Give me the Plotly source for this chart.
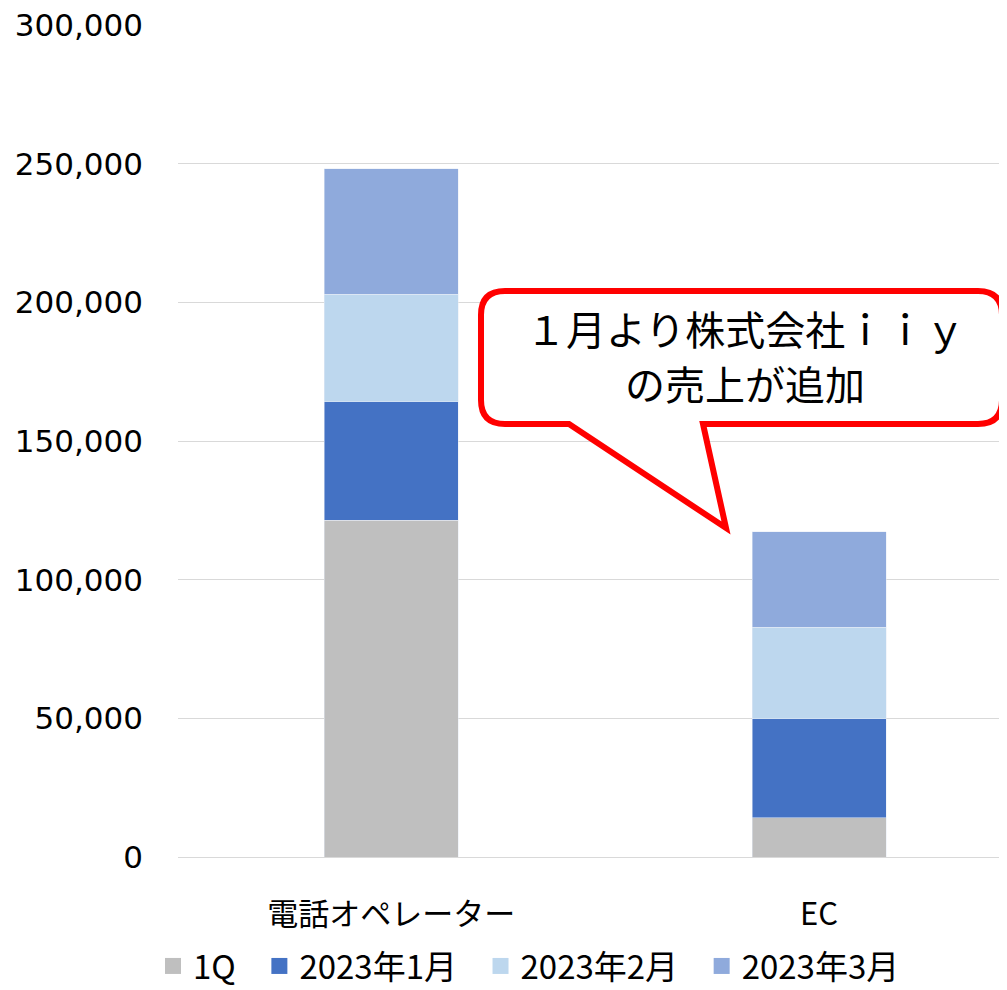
import plotly.graph_objects as go

categories = ["電話オペレーター", "EC"]
series_names = ["1Q", "2023年1月", "2023年2月", "2023年3月"]
values_1q = [121400, 14200]
values_jan = [42800, 35600]
values_feb = [38700, 33100]
values_mar = [45300, 34400]
colors = ["#bfbfbf", "#4472c4", "#bdd7ee", "#8faadc"]
y_ticks = [0, 50000, 100000, 150000, 200000, 250000, 300000]

series_values = [values_1q, values_jan, values_feb, values_mar]

# the page body has an 8px margin; lay the figure out in window pixels
OFF = 8
WIN_W, WIN_H = 1007, 990
W, H = WIN_W - OFF, WIN_H - OFF
PLOT_L, PLOT_R, PLOT_T, PLOT_B = 178, 1007, 25, 857   # window pixels
ML, MR, MT, MB = PLOT_L - OFF, WIN_W - PLOT_R, PLOT_T - OFF, WIN_H - PLOT_B
PW = PLOT_R - PLOT_L
PH = PLOT_B - PLOT_T


def px(x):
    return (x - PLOT_L) / PW


def py(y):
    return (PLOT_B - y) / PH


fig = go.Figure()
for name, vals, col in zip(series_names, series_values, colors):
    fig.add_trace(go.Bar(x=categories, y=vals, name=name, marker_color=col,
                         width=0.313, showlegend=False))
    fig.add_trace(go.Scatter(x=[None], y=[None], mode="markers", name=name + "\u2002\u200a",
                             marker=dict(symbol="square", size=21, color=col),
                             showlegend=True))

# callout balloon
L, R, T, B, r = 481, 1002, 291, 424, 24
tail_l, tail_r, tip = (569, B), (703, B), (726, 528)
pts = [
    ("M", (L + r, T)), ("L", (R - r, T)), ("Q", (R, T), (R, T + r)),
    ("L", (R, B - r)), ("Q", (R, B), (R - r, B)),
    ("L", tail_r), ("L", tip), ("L", tail_l),
    ("L", (L + r, B)), ("Q", (L, B), (L, B - r)),
    ("L", (L, T + r)), ("Q", (L, T), (L + r, T)),
]
path = ""
for item in pts:
    cmd = item[0]
    coords = " ".join(f"{px(p[0]):.5f},{py(p[1]):.5f}" for p in item[1:])
    path += f"{cmd}{coords} "
path += "Z"
fig.add_shape(type="path", path=path, xref="paper", yref="paper",
              line=dict(color="#ff0000", width=6), fillcolor="white", layer="above")

for txt, yc in [("１月より株式会社ｉｉｙ", 328), ("の売上が追加", 383)]:
    fig.add_annotation(text=txt, xref="paper", yref="paper",
                       x=px(745), y=py(yc), xanchor="center", yanchor="middle",
                       showarrow=False, font=dict(size=40, color="black", family="Noto Sans CJK JP"))

fig.update_layout(
    width=W, height=H,
    margin=dict(l=ML, r=MR, t=MT, b=MB, autoexpand=False),
    barmode="stack",
    plot_bgcolor="white", paper_bgcolor="white",
    font=dict(family="Noto Sans CJK JP", size=31, color="black"),
    legend=dict(orientation="h", traceorder="normal", x=px(153), xanchor="left",
                y=py(966), yanchor="middle",
                font=dict(size=33), itemsizing="trace", bgcolor="rgba(0,0,0,0)"),
    xaxis=dict(range=[-0.498, 1.439], showgrid=False, zeroline=False, showline=False,
               automargin=False, ticks="", ticklabelstandoff=36, tickfont=dict(size=31)),
    yaxis=dict(range=[0, 300000], tickvals=y_ticks, tickformat=",d", automargin=False,
               ticklabeloverflow="allow",
               gridcolor="#d9d9d9", gridwidth=1.3, zeroline=True, zerolinecolor="#d9d9d9",
               zerolinewidth=1.3, showline=False, ticks="", ticklabelstandoff=34,
               tickfont=dict(family="DejaVu Sans", size=31)),
)

fig.write_html("out.html")
